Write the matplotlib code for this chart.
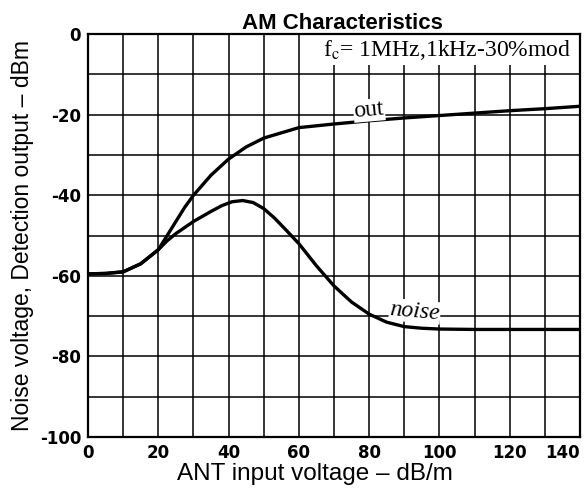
import matplotlib.pyplot as plt
from matplotlib.patches import Rectangle
import numpy as np

plt.rcParams['mathtext.fontset'] = 'stix'

# detection output curve (dBm) vs ANT input (dB/m)
out_x = [0, 5, 10, 15, 20, 22.5, 25, 27.5, 30, 35, 40, 45, 50, 55, 60, 70, 80, 90, 100,
         110, 120, 130, 140]
out_y = [-59.5, -59.4, -59, -57, -53.5, -50, -46.5, -43, -40, -35, -31, -28, -25.8, -24.5,
         -23.2, -22.3, -21.5, -20.8, -20.2, -19.6, -19, -18.5, -17.9]

# noise voltage curve
noise_x = [0, 5, 10, 15, 20, 22.5, 25, 30, 35, 38, 41, 44, 47, 50, 53, 56, 60, 65, 70, 75,
           80, 85, 90, 95, 100, 110, 120, 130, 140]
noise_y = [-59.5, -59.4, -59, -57, -53.5, -51.3, -49.5, -46.5, -44, -42.6, -41.6, -41.3,
           -41.8, -43.3, -45.6, -48.3, -52, -57.5, -62.5, -66.5, -69.5, -71.5, -72.6, -73,
           -73.2, -73.3, -73.3, -73.3, -73.3]

x_ticks = [0, 20, 40, 60, 80, 100, 120, 140]
y_ticks = [0, -20, -40, -60, -80, -100]
y_tick_labels = ["0", "-20", "-40", "-60", "-80", "-100"]

fig = plt.figure(figsize=(5.87, 4.88), dpi=100)
ax = fig.add_axes([0.150, 0.1045, 0.838, 0.8255])

ax.set_xlim(0, 140)
ax.set_ylim(-100, 0)

# grid every 10 units
ax.set_xticks(np.arange(0, 141, 10), minor=True)
ax.set_yticks(np.arange(-100, 1, 10), minor=True)
ax.grid(which='both', color='black', linewidth=1.1)
ax.set_axisbelow(True)
ax.set_xticks(x_ticks)
ax.set_yticks(y_ticks)
ax.set_yticklabels(y_tick_labels)
ax.tick_params(which='both', length=0, labelsize=12, pad=5)
for lab in ax.get_xticklabels() + ax.get_yticklabels():
    lab.set_fontweight('bold')
    lab.set_family('Liberation Sans Narrow')
ax.get_xticklabels()[-1].set_horizontalalignment('right')
for s in ax.spines.values():
    s.set_linewidth(1.6)

ax.plot(out_x, out_y, color='black', linewidth=2.4, solid_joinstyle='round',
        solid_capstyle='round', zorder=3)
ax.plot(noise_x, noise_y, color='black', linewidth=2.4, solid_joinstyle='round',
        solid_capstyle='round', zorder=3)

ax.text(80, -18.9, "out", family='Liberation Serif', fontsize=17, rotation=5,
        ha='center', va='center', zorder=4,
        bbox=dict(facecolor='white', edgecolor='none', pad=0.5))
ax.text(93, -68.8, "noise", family='Liberation Serif', style='italic', fontsize=17,
        rotation=-5, ha='center', va='center', zorder=4,
        bbox=dict(facecolor='white', edgecolor='none', pad=0.5))

# white panel behind the condition note
ax.add_patch(Rectangle((63, -7.7), 77, 7.7, facecolor='white', edgecolor='none', zorder=2))
ax.text(137.5, -0.9, r"f$_\mathrm{c}$= 1MHz,1kHz-30%mod", family='Liberation Serif',
        fontsize=17, ha='right', va='top', zorder=4)

ax.set_title("AM Characteristics", fontsize=16, fontweight='bold',
             family='Liberation Sans', pad=2, x=0.518)
ax.set_xlabel("ANT input voltage \u2013 dB/m", fontsize=17.5, family='Liberation Sans',
              labelpad=1, x=0.461)
ax.set_ylabel("Noise voltage, Detection output \u2013 dBm", fontsize=16.5,
              family='Liberation Sans', labelpad=4)

fig.savefig("out.png", dpi=100)
